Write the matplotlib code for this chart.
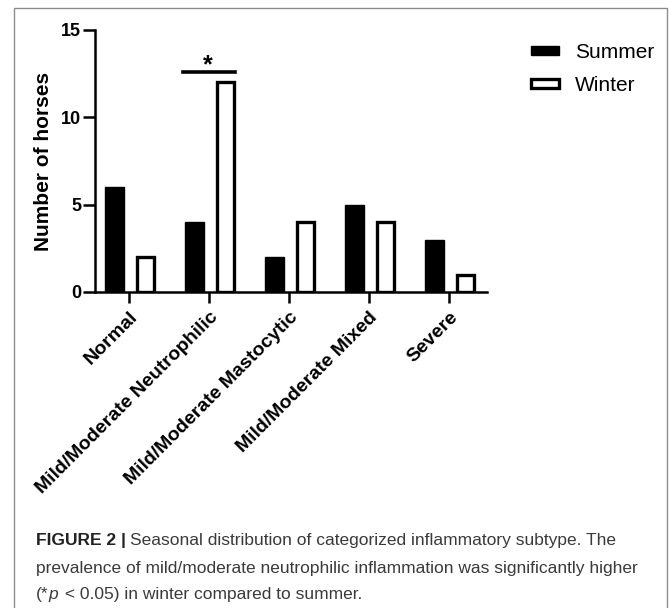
import matplotlib.pyplot as plt
import numpy as np
from matplotlib.patches import Rectangle

plt.rcParams["font.family"] = ["Liberation Sans", "DejaVu Sans"]

categories = [
    "Normal",
    "Mild/Moderate Neutrophilic",
    "Mild/Moderate Mastocytic",
    "Mild/Moderate Mixed",
    "Severe",
]
summer = [6, 4, 2, 5, 3]
winter = [2, 12, 4, 4, 1]
series_names = ["Summer", "Winter"]
y_ticks = [0, 5, 10, 15]
sig_level = 12.6

caption_bold = "FIGURE 2 |"
caption_line1 = "Seasonal distribution of categorized inflammatory subtype. The"
caption_line2 = "prevalence of mild/moderate neutrophilic inflammation was significantly higher"
caption_line3 = ["(*", "p", " < 0.05) in winter compared to summer."]

W, H = 670, 608
fig = plt.figure(figsize=(W / 100, H / 100), dpi=100)
ax = fig.add_axes([95 / W, 1 - 292 / H, (487 - 95) / W, (292 - 30) / H])

x = np.arange(len(categories))
bw = 0.24
ax.bar(x - 0.18, summer, bw, color="black", edgecolor="black", linewidth=1, label=series_names[0])
ax.bar(x + 0.205, winter, bw * 0.92, color="white", edgecolor="black", linewidth=2.4,
       label=series_names[1])

ax.set_xlim(-0.425, 4.475)
ax.set_ylim(0, 15)
ax.set_yticks(y_ticks)
ax.set_xticks(x)
ax.set_xticklabels(categories, rotation=45, ha="right", rotation_mode="anchor",
                   fontsize=14, fontweight="bold")
for lab in ax.get_yticklabels():
    lab.set_fontsize(13)
    lab.set_fontweight("bold")
ax.set_ylabel("Number of horses", fontsize=15, fontweight="bold", labelpad=6)

for s in ["top", "right"]:
    ax.spines[s].set_visible(False)
for s in ["left", "bottom"]:
    ax.spines[s].set_linewidth(1.8)
ax.tick_params(axis="x", length=8, width=1.8, pad=4)
ax.tick_params(axis="y", length=9, width=1.8, pad=1)

# significance marker
ax.plot([1 - 0.325, 1 + 0.325], [sig_level, sig_level], color="black", lw=2.6, clip_on=False)
ax.text(1 - 0.01, 12.95, "*", ha="center", va="center", fontsize=18, fontweight="bold")

fs_leg = 15
leg = ax.legend(loc="upper left", bbox_to_anchor=(512 / W, 1 - 24 / H),
                bbox_transform=fig.transFigure, frameon=False, fontsize=fs_leg,
                handlelength=1.35, handleheight=0.3, handletextpad=0.78, labelspacing=0.7)

# figure border
fig.patches.append(Rectangle((14 / W, -0.01), (667 - 14) / W, 1 - 8 / H + 0.01,
                             transform=fig.transFigure, fill=False, edgecolor="#8c8c8c",
                             linewidth=1.0))

cap_font = ["Liberation Sans", "DejaVu Sans"]
cap_size = 12.55
x0 = 36 / W
y1, y2, y3 = 1 - 540 / H, 1 - 568 / H, 1 - 594 / H

fig.canvas.draw()
renderer = fig.canvas.get_renderer()


def put(xf, yf, s, color="#3a3a3a", **kw):
    t = fig.text(xf, yf, s, va="center", ha="left", family=cap_font, fontsize=cap_size,
                 color=color, **kw)
    bb = t.get_window_extent(renderer)
    return bb.x1 / W


nx = put(x0, y1, caption_bold, fontweight="bold", color="#222222")
put(nx + 4 / W, y1, caption_line1)
put(x0, y2, caption_line2)
nx = put(x0, y3, caption_line3[0])
nx = put(nx, y3, caption_line3[1], style="italic")
put(nx + 2 / W, y3, caption_line3[2])

fig.savefig("out.png", dpi=100)
